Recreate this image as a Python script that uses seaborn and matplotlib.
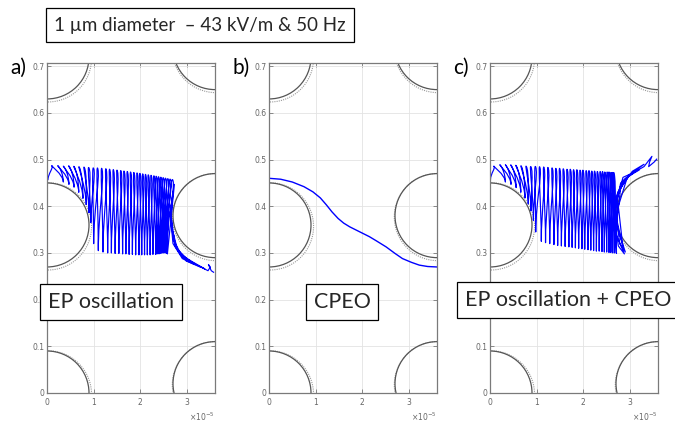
import numpy as np
import matplotlib
matplotlib.use("Agg")
import matplotlib.pyplot as plt
import seaborn as sns
from matplotlib.patches import Ellipse, PathPatch
from matplotlib.path import Path
from matplotlib.ticker import ScalarFormatter, FixedLocator

sns.set_theme(style="white")
plt.rcParams['font.family'] = ['Lato', 'DejaVu Sans']

# ---------------- data (x in units of 1e-5 m) ----------------
panel_labels = ["a)", "b)", "c)"]
box_texts = ["EP oscillation", "CPEO", "EP oscillation + CPEO"]
title_text = "1 \u00b5m diameter  \u2013 43 kV/m & 50 Hz"
y_ticks = [0, 0.1, 0.2, 0.3, 0.4, 0.5, 0.6, 0.7]
y_ticklabels = ["0", "0.1", "0.2", "0.3", "0.4", "0.5", "0.6", "0.7"]
x_ticks = [0, 1, 2, 3]

# posts (centre x, centre y, radius in x-units)
post_x = [0.0, 0.0, 0.0, 3.6, 3.6, 3.6]
post_y = [0.00, 0.36, 0.72, 0.02, 0.38, 0.74]
post_r = [0.9, 0.9, 0.9, 0.9, 0.9, 0.9]

# panel a: EP oscillation (tops / bottoms of each oscillation)
a_start = (0.02, 0.456)
a_top_x = [0.10, 0.23, 0.35, 0.47, 0.58, 0.69, 0.80, 0.90, 1.00, 1.09, 1.18, 1.27, 1.35, 1.43,
           1.51, 1.59, 1.66, 1.73, 1.80, 1.87, 1.94, 2.00, 2.06, 2.12, 2.18, 2.24, 2.30, 2.35,
           2.40, 2.45, 2.50, 2.55, 2.60, 2.65, 2.70]
a_top_y = [0.487, 0.487, 0.486, 0.486, 0.485, 0.484, 0.483, 0.482, 0.481, 0.480, 0.479, 0.478,
           0.477, 0.476, 0.475, 0.474, 0.473, 0.472, 0.471, 0.470, 0.469, 0.468, 0.467, 0.466,
           0.465, 0.464, 0.463, 0.462, 0.461, 0.460, 0.459, 0.458, 0.457, 0.456, 0.455]
a_bot_x = [0.35, 0.47, 0.58, 0.68, 0.77, 0.84, 0.90, 0.94, 1.00, 1.10, 1.20, 1.30, 1.38, 1.46,
           1.54, 1.62, 1.69, 1.76, 1.83, 1.90, 1.97, 2.03, 2.09, 2.15, 2.21, 2.27, 2.33, 2.36,
           2.40, 2.44, 2.47, 2.50, 2.53, 2.56, 2.58]
a_bot_y = [0.452, 0.447, 0.441, 0.430, 0.417, 0.404, 0.386, 0.365, 0.320, 0.305, 0.302, 0.300,
           0.300, 0.299, 0.299, 0.298, 0.298, 0.297, 0.297, 0.296, 0.296, 0.296, 0.296, 0.296,
           0.296, 0.297, 0.297, 0.298, 0.298, 0.299, 0.300, 0.300, 0.300, 0.299, 0.298]
a_tail_x = [2.73, 2.64, 2.70, 2.90, 3.15, 2.90, 2.70, 2.65, 2.70, 2.66, 2.74, 2.98, 3.28, 3.00,
            2.76, 2.70, 2.80, 3.05, 3.38, 3.10, 2.85, 3.10, 3.45, 3.50, 3.46, 3.52, 3.58]
a_tail_y = [0.447, 0.385, 0.320, 0.288, 0.276, 0.292, 0.330, 0.390, 0.430, 0.380, 0.315, 0.283,
            0.270, 0.287, 0.312, 0.345, 0.305, 0.282, 0.266, 0.282, 0.298, 0.280, 0.262, 0.270,
            0.275, 0.262, 0.258]

# panel b: CPEO trajectory
b_x = [0.00, 0.25, 0.50, 0.75, 0.94, 1.10, 1.23, 1.35, 1.48, 1.60, 1.73, 1.95, 2.15, 2.30,
       2.51, 2.70, 2.86, 3.05, 3.22, 3.40, 3.60]
b_y = [0.460, 0.458, 0.452, 0.442, 0.431, 0.418, 0.403, 0.388, 0.374, 0.364, 0.356, 0.345,
       0.335, 0.326, 0.313, 0.299, 0.288, 0.280, 0.274, 0.271, 0.270]

# panel c: EP oscillation + CPEO
c_start = (0.01, 0.457)
c_top_x = [0.08, 0.21, 0.33, 0.45, 0.56, 0.67, 0.78, 0.88, 0.98, 1.07, 1.16, 1.25, 1.34, 1.42,
           1.50, 1.58, 1.66, 1.73, 1.80, 1.87, 1.94, 2.00, 2.07, 2.13, 2.19, 2.25, 2.31, 2.37,
           2.42, 2.47, 2.52, 2.56, 2.60, 2.63, 2.66]
c_top_y = [0.486, 0.489, 0.489, 0.488, 0.487, 0.486, 0.485, 0.484, 0.484, 0.483, 0.482, 0.481,
           0.480, 0.479, 0.479, 0.478, 0.477, 0.477, 0.476, 0.476, 0.475, 0.475, 0.474, 0.474,
           0.473, 0.473, 0.472, 0.472, 0.472, 0.471, 0.471, 0.471, 0.470, 0.470, 0.470]
c_bot_x = [0.33, 0.45, 0.56, 0.66, 0.75, 0.82, 0.88, 0.93, 0.98, 1.10, 1.19, 1.28, 1.37, 1.45,
           1.53, 1.61, 1.69, 1.76, 1.83, 1.90, 1.97, 2.03, 2.10, 2.16, 2.22, 2.28, 2.34, 2.40,
           2.45, 2.50, 2.55, 2.59, 2.63, 2.67, 2.71]
c_bot_y = [0.452, 0.447, 0.440, 0.430, 0.418, 0.405, 0.390, 0.370, 0.345, 0.325, 0.322, 0.320,
           0.318, 0.316, 0.315, 0.314, 0.313, 0.312, 0.311, 0.310, 0.309, 0.308, 0.307, 0.306,
           0.305, 0.304, 0.304, 0.303, 0.302, 0.302, 0.301, 0.301, 0.300, 0.300, 0.299]
c_tail_x = [2.68, 2.70, 2.85, 3.05, 2.80, 2.66, 2.75, 2.88, 2.70, 2.68, 2.90, 3.20, 2.85, 2.68,
            2.78, 2.90, 2.71, 2.74, 3.00, 3.30, 3.05, 2.80, 2.72, 2.85, 2.75, 2.95, 3.30, 3.47,
            3.42, 3.40, 3.52, 3.58]
c_tail_y = [0.360, 0.420, 0.455, 0.470, 0.450, 0.380, 0.315, 0.298, 0.340, 0.410, 0.460, 0.478,
            0.462, 0.400, 0.320, 0.302, 0.360, 0.430, 0.468, 0.490, 0.475, 0.440, 0.370, 0.310,
            0.400, 0.465, 0.485, 0.507, 0.495, 0.485, 0.495, 0.502]

XS = 1e-5
XMAX = 3.6
YMAX = 0.707
LOOP_W = 0.05      # half-width of the looped cap at each oscillation top (style)
BLUE = "#0000ff"


def loop_path(start, tx, ty, bx, by, tailx, taily):
    """Path through the read keypoints; each oscillation drawn as a looped stroke."""
    verts = [(start[0] * XS, start[1])]
    codes = [Path.MOVETO]
    cur = start
    for i in range(len(tx)):
        h = max(ty[i] - cur[1], 0.02)
        verts += [(cur[0] * XS, cur[1] + 0.45 * h),
                  ((tx[i] + LOOP_W) * XS, ty[i] - 0.12 * h),
                  (tx[i] * XS, ty[i])]
        codes += [Path.CURVE4] * 3
        h2 = max(ty[i] - by[i], 0.02)
        verts += [((tx[i] - LOOP_W) * XS, ty[i] + 0.12 * h),
                  (bx[i] * XS, by[i] + 0.45 * h2),
                  (bx[i] * XS, by[i])]
        codes += [Path.CURVE4] * 3
        cur = (bx[i], by[i])
    for x, y in zip(tailx, taily):
        verts.append((x * XS, y))
        codes.append(Path.LINETO)
    return Path(verts, codes)


fig = plt.figure(figsize=(6.75, 4.26), dpi=100)
fig.patch.set_facecolor("white")

lefts = [47 / 675, 269 / 675, 490 / 675]
bottom = (426 - 393) / 426
width = 168 / 675
height = 330 / 426

for k in range(3):
    ax = fig.add_axes([lefts[k], bottom, width, height])
    ax.set_facecolor("white")
    ax.xaxis.set_major_locator(FixedLocator([v * XS for v in x_ticks]))
    ax.set_yticks(y_ticks)
    ax.set_yticklabels(y_ticklabels)
    fmt = ScalarFormatter(useMathText=True)
    fmt.set_powerlimits((-3, 3))
    ax.xaxis.set_major_formatter(fmt)
    ax.grid(True, color="#e3e3e3", lw=0.6)
    ax.set_axisbelow(True)
    ax.tick_params(direction="in", length=3, width=0.6, colors="#777777",
                   labelsize=5.5, labelcolor="#666666", top=True, right=True,
                   bottom=True, left=True, pad=2)
    ax.xaxis.get_offset_text().set_fontsize(5.5)
    ax.xaxis.get_offset_text().set_color("#666666")
    ax.xaxis.get_offset_text().set_family("DejaVu Sans")
    for s in ax.spines.values():
        s.set_color("#7a7a7a")
        s.set_linewidth(0.9)

    for cx, cy, r in zip(post_x, post_y, post_r):
        ax.add_patch(Ellipse((cx * XS + 0.02 * XS, cy - 0.003), 2 * (r + 0.035) * XS,
                             2 * (r + 0.035) * 0.1, fill=False, ec="#9a9a9a",
                             lw=0.8, ls=(0, (1, 1)), clip_on=True))
        ax.add_patch(Ellipse((cx * XS, cy), 2 * r * XS, 2 * r * 0.1, fill=False,
                             ec="#555555", lw=0.9, clip_on=True))

    if k == 1:
        sns.lineplot(x=np.array(b_x) * XS, y=np.array(b_y), sort=False, estimator=None,
                     ax=ax, color=BLUE, lw=1.0)
    else:
        if k == 0:
            p = loop_path(a_start, a_top_x, a_top_y, a_bot_x, a_bot_y, a_tail_x, a_tail_y)
        else:
            p = loop_path(c_start, c_top_x, c_top_y, c_bot_x, c_bot_y, c_tail_x, c_tail_y)
        ax.add_patch(PathPatch(p, fill=False, ec=BLUE, lw=0.85, joinstyle="round"))

    ax.set_xlim(0, XMAX * XS)
    ax.set_ylim(0, YMAX)
    for lab in ax.get_xticklabels() + ax.get_yticklabels():
        lab.set_family("DejaVu Sans")
    ax.set_xlabel("")
    ax.set_ylabel("")

    ax.text(-0.22, 0.985, panel_labels[k], transform=ax.transAxes, fontsize=15,
            ha="left", va="center", color="black")

box_style = dict(boxstyle="square,pad=0.35", fc="white", ec="black", lw=0.9)
fig.text(111 / 675, 1 - 302 / 426, box_texts[0], fontsize=15.5, ha="center", va="center",
         bbox=box_style)
fig.text(342 / 675, 1 - 302 / 426, box_texts[1], fontsize=15.5, ha="center", va="center",
         bbox=box_style)
fig.text(568 / 675, 1 - 300 / 426, box_texts[2], fontsize=15.5, ha="center", va="center",
         bbox=box_style)

fig.text(200 / 675, 1 - 25 / 426, title_text, fontsize=13.5, ha="center", va="center",
         bbox=dict(boxstyle="square,pad=0.45", fc="white", ec="black", lw=0.9))

fig.savefig("out.png", dpi=100)
